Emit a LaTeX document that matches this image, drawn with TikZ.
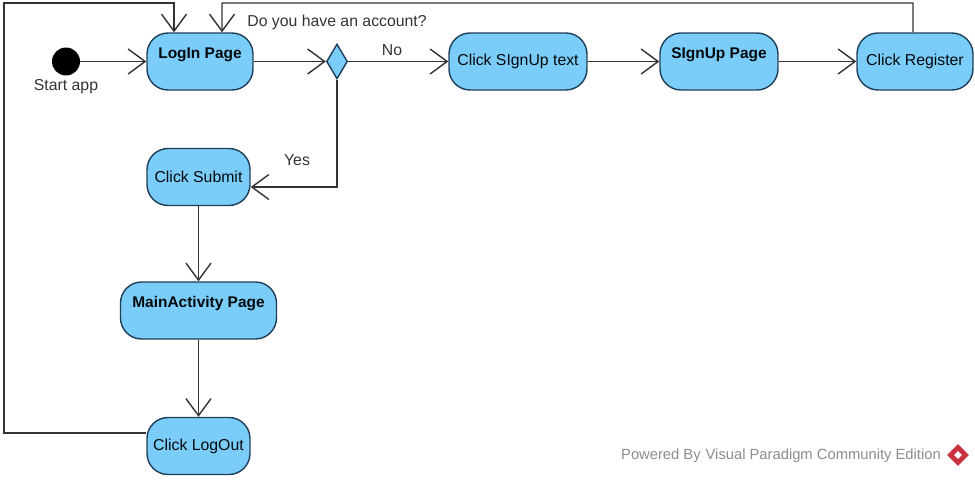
\documentclass[tikz,border=0pt]{standalone}
\usepackage{fontspec}
\setmainfont{Liberation Sans}
\usetikzlibrary{arrows.meta,shapes.geometric}
\definecolor{actfill}{HTML}{7ACDF9}
\definecolor{actline}{HTML}{1F3F58}
\definecolor{wmgray}{HTML}{8C8C8C}
\definecolor{wmred}{HTML}{C8323C}
\begin{document}
\begin{tikzpicture}[
    x=0.02cm,
    y=-0.02cm,
    font=\fontsize{9}{10}\selectfont,
    activity/.style={rectangle, draw=actline, fill=actfill, thick, rounded corners=0.42cm, minimum height=1.14cm, inner sep=0pt, align=center, text=black!85!actline},
    pagebox/.style={activity, font=\fontsize{8.8}{9.8}\selectfont\bfseries},
    decision/.style={diamond, draw=actline, fill=actfill, thick, minimum width=0.42cm, minimum height=0.7cm, inner sep=0pt, aspect=0.6},
    arrow/.style={-{Straight Barb[length=0.34cm,width=0.5cm]}, draw=black!80, thick},
    caption/.style={text=black!80}
]
\useasboundingbox (0,0) rectangle (975,480);

% Top row
\node[circle, fill=black, minimum size=0.56cm, inner sep=0pt] (start) at (66,61.5) {};
\node[pagebox, minimum width=2.12cm] (login) at (200,61.5) {LogIn Page\\~};
\node[decision] (choice) at (337,61.5) {};
\node[activity, minimum width=2.76cm] (clicksignup) at (518,61.5) {Click SIgnUp text};
\node[pagebox, minimum width=2.36cm] (signup) at (719,61.5) {SIgnUp Page\\~};
\node[activity, minimum width=2.32cm] (register) at (915,61.5) {Click Register};

% Left column
\node[activity, minimum width=2.06cm] (submit) at (198.5,177) {Click Submit};
\node[pagebox, minimum width=3.12cm] (mainpage) at (198.5,310.5) {MainActivity Page\\~};
\node[activity, minimum width=2.06cm] (logout) at (198.5,446) {Click LogOut};

% Loop corners
\coordinate (loopleft) at (4,3);
\coordinate (loopright) at (222,3);

% Labels
\node[caption] (startlabel) at (66,87) {Start app};
\node[caption] (question) at (337,22) {Do you have an account?};
\node[caption] (nolabel) at (392,50) {No};
\node[caption] (yeslabel) at (297,160) {Yes};

% Connections
\draw[arrow] (start) -- (login);
\draw[arrow] (login) -- (choice);
\draw[arrow] (choice) -- (clicksignup);
\draw[arrow] (clicksignup) -- (signup);
\draw[arrow] (signup) -- (register);
\draw[arrow] (choice.south) |- ([yshift=-0.2cm]submit.east);
\draw[arrow] (submit) -- (mainpage);
\draw[arrow] (mainpage) -- (logout);
\draw[arrow] ([yshift=0.26cm]logout.west) -| (loopleft) -| ([xshift=-0.52cm]login.north);
\draw[arrow] ([xshift=-0.04cm]register.north) |- (loopright) -- ([xshift=0.44cm]login.north);

% Watermark
\node[text=wmgray, anchor=east, font=\fontsize{8.4}{10}\selectfont] (powered) at (947,456) {Powered By\,\,Visual Paradigm Community Edition};
\node[diamond, fill=wmred, minimum size=0.44cm, inner sep=0pt] (logo) at (958,455) {};
\node[diamond, fill=white, minimum size=0.16cm, inner sep=0pt] (logohole) at (logo) {};

\end{tikzpicture}
\end{document}
